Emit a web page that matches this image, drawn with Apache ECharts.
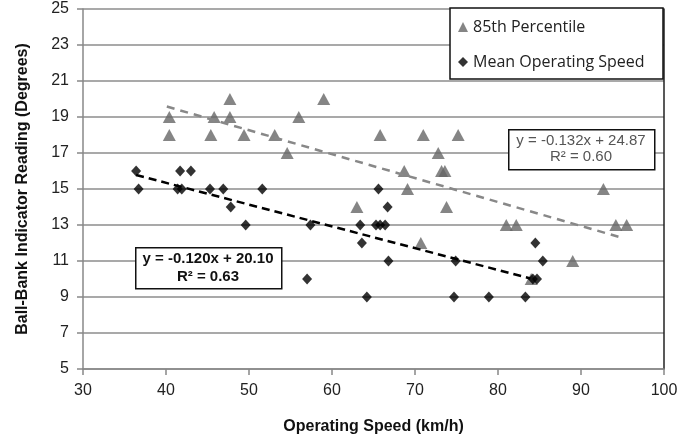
<!DOCTYPE html>
<html>
<head>
<meta charset="utf-8">
<script src="https://cdn.jsdelivr.net/npm/echarts@6/dist/echarts.min.js"></script>
<style>html,body{margin:0;padding:0;background:#fff}#c{width:690px;height:440px}</style>
</head>
<body>
<div id="c"></div>
<script>
const pct85 = [
  [40.4,18],[40.4,19],[45.4,18],[45.8,19],[47.7,20],[47.7,19],[49.4,18],[53.1,18],
  [54.6,17],[56.0,19],[59.0,20],[65.8,18],[71.0,18],[75.2,18],[72.8,17],[68.7,16],
  [73.2,16],[73.6,16],[69.1,15],[63.0,14],[73.8,14],[81.0,13],[82.2,13],[70.7,12],
  [92.7,15],[94.2,13],[95.5,13],[89.0,11],[84.0,10]
];
const meanSpeed = [
  [36.4,16],[36.7,15],[41.7,16],[43.0,16],[41.4,15],[41.9,15],[45.3,15],[46.9,15],
  [47.8,14],[49.6,13],[51.6,15],[57.4,13],[57.0,10],[65.6,15],[66.7,14],[63.4,13],
  [65.3,13],[65.8,13],[66.4,13],[63.6,12],[66.8,11],[64.2,9],[74.9,11],[74.7,9],
  [78.9,9],[83.3,9],[84.5,12],[85.4,11],[84.2,10],[84.7,10]
];
const trend85 = [[40.1,19.58],[95.1,12.27]];
const trendMean = [[36.4,15.78],[83.9,10.03]];
const eq85 = ['y = -0.132x + 24.87', 'R² = 0.60'];
const eqMean = ['y = -0.120x + 20.10', 'R² = 0.63'];
const xTitle = 'Operating Speed (km/h)';
const yTitle = 'Ball-Bank Indicator Reading (Degrees)';
const names = ['85th Percentile', 'Mean Operating Speed'];

const chart = echarts.init(document.getElementById('c'));
const font = 'Liberation Sans, Arial, sans-serif';
chart.setOption({
  animation: false,
  grid: {left: 83, right: 26, top: 9, bottom: 71},
  xAxis: {
    type: 'value', min: 30, max: 100, interval: 10,
    name: xTitle, nameLocation: 'middle', nameGap: 50,
    nameTextStyle: {fontFamily: font, fontSize: 16, fontWeight: 'bold', color: '#111'},
    axisLine: {show: true, lineStyle: {color: '#888', width: 1.5}},
    axisTick: {show: true, length: 6, lineStyle: {color: '#888', width: 1.5}},
    axisLabel: {fontFamily: font, fontSize: 16, color: '#222', margin: 14},
    splitLine: {show: false}
  },
  yAxis: [{
    type: 'value', min: 5, max: 25, interval: 2,
    name: yTitle, nameLocation: 'middle', nameGap: 52,
    nameTextStyle: {fontFamily: font, fontSize: 16, fontWeight: 'bold', color: '#111'},
    axisLine: {show: true, lineStyle: {color: '#888', width: 1.5}},
    axisTick: {show: true, length: 6, lineStyle: {color: '#888', width: 1.5}},
    axisLabel: {fontFamily: font, fontSize: 16, color: '#222', margin: 14},
    splitLine: {show: true, lineStyle: {color: '#8c8c8c', width: 1.5}}
  }, {
    type: 'value', min: 5, max: 25, interval: 2, position: 'right',
    axisLine: {show: true, lineStyle: {color: '#222', width: 1.5}},
    axisTick: {show: false}, axisLabel: {show: false}, splitLine: {show: false}
  }],
  legend: {
    orient: 'vertical', right: 27, top: 8,
    data: names,
    backgroundColor: '#fff', borderColor: '#111', borderWidth: 1.5,
    padding: [10, 8, 8, 8], itemGap: 17, itemWidth: 10, itemHeight: 10,
    textStyle: {fontFamily: 'Open Sans, sans-serif', fontSize: 16, color: '#222', width: 182, lineHeight: 18}
  },
  series: [
    {name: names[0], type: 'scatter', data: pct85, symbol: 'triangle', symbolSize: [13, 12],
     itemStyle: {color: '#666'}, z: 2},
    {name: names[1], type: 'scatter', data: meanSpeed, symbol: 'diamond', symbolSize: [10, 11],
     itemStyle: {color: '#000'}, z: 3},
    {type: 'line', data: trend85, symbol: 'none', z: 4,
     lineStyle: {color: '#888', width: 2.5, type: [8, 6]}},
    {type: 'line', data: trendMean, symbol: 'none', z: 4,
     lineStyle: {color: '#000', width: 2.5, type: [8, 5]}}
  ],
  graphic: [
    {type: 'rect', left: 508, top: 129, z: 100, shape: {x: 0, y: 0, width: 146, height: 40},
     style: {fill: '#fff', stroke: '#111', lineWidth: 1.5}},
    {type: 'text', z: 101, x: 581, y: 149,
     style: {text: eq85.join('\n'), fontFamily: font, fontSize: 15,
       lineHeight: 16, fill: '#555', align: 'center', verticalAlign: 'middle'}},
    {type: 'rect', left: 135, top: 247, z: 100, shape: {x: 0, y: 0, width: 146, height: 41},
     style: {fill: '#fff', stroke: '#111', lineWidth: 1.5}},
    {type: 'text', z: 101, x: 208, y: 267.5,
     style: {text: eqMean.join('\n'), fontFamily: font, fontSize: 15,
       fontWeight: 'bold', lineHeight: 18, fill: '#111', align: 'center', verticalAlign: 'middle'}}
  ]
});
</script>
</body>
</html>
